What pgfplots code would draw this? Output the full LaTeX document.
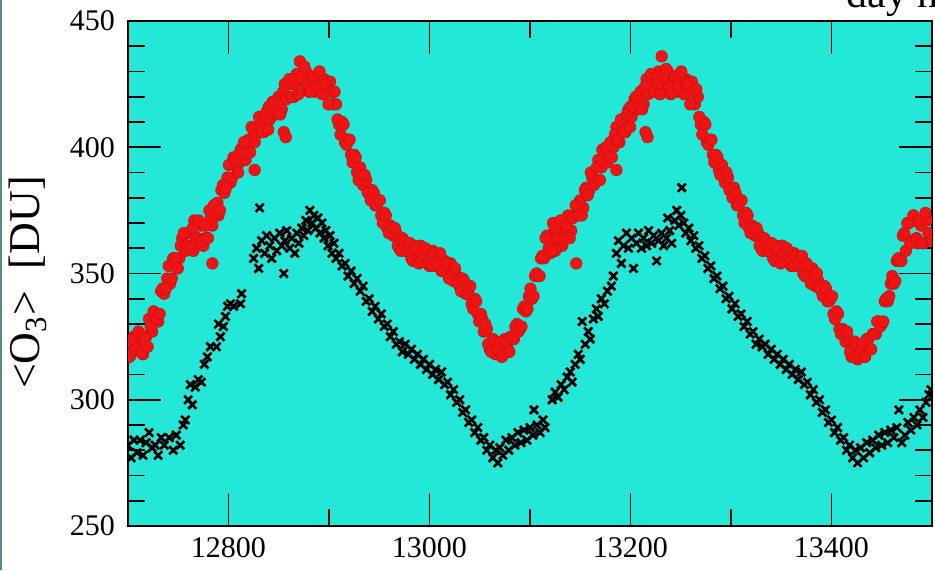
\documentclass[border=0pt]{standalone}
\usepackage{pgfplots}
\pgfplotsset{compat=1.18}
\usepackage{fontspec}
\setmainfont{Liberation Serif}
\definecolor{bgcyan}{RGB}{35,232,215}
\definecolor{ozred}{RGB}{240,20,20}
\definecolor{edgestrip}{RGB}{90,135,150}
\begin{document}
\begin{tikzpicture}
\useasboundingbox (0,0) rectangle (467.5pt,285pt);
\fill[edgestrip] (0,0) rectangle (1pt,285pt);
\node[anchor=base west, font=\fontsize{21}{23}\selectfont, inner sep=0pt] at (423pt,281.5pt) {day number};
\begin{axis}[
  at={(64pt,22pt)}, anchor=south west, scale only axis,
  width=402pt, height=252.5pt,
  xmin=12700, xmax=13500, ymin=250, ymax=450,
  xtick={12800,13000,13200,13400},
  minor xtick={12900,13100,13300},
  ytick={250,300,350,400,450},
  minor y tick num=4,
  tick pos=both, tick align=inside,
  major tick length=16.5pt, minor tick length=8.5pt,
  every tick/.style={black, line width=0.8pt},
  axis line style={line width=1pt},
  axis background/.style={fill=bgcyan},
  scaled x ticks=false,
  /pgf/number format/1000 sep={},
  /pgf/number format/assume math mode=true,
  tick label style={font=\fontsize{15}{17}\selectfont},
  xticklabel style={yshift=-2pt},
  yticklabel style={xshift=-3pt},
  ylabel={<O\textsubscript{3}>\ \ [DU]},
  every axis y label/.style={at={(axis description cs:-0.1244,0.482)}, rotate=90, anchor=center, font=\fontsize{22}{24}\selectfont},
  clip marker paths=true,
  redm/.style={only marks, mark=*, mark size=2.9pt, mark options={fill=ozred, draw=ozred!85!black, line width=0.3pt}},
]
\addplot[redm] coordinates {
(12700,323)(12703,318)(12706,325)(12709,321)(12712,325)(12715,318)(12718,325)(12721,332)(12724,327)(12727,332)
(12730,331)(12733,343)(12736,342)(12739,348)(12742,346)(12745,356)(12748,356)(12751,356)(12754,364)(12757,359)
(12760,366)(12763,361)(12766,371)(12769,364)(12772,369)(12775,361)(12778,369)(12781,375)(12784,369)(12787,374)
(12790,373)(12793,383)(12796,382)(12799,388)(12802,386)(12805,396)(12808,395)(12811,394)(12814,400)(12817,395)
(12820,403)(12823,408)(12826,402)(12829,406)(12832,410)(12835,406)(12838,414)(12841,411)(12844,418)(12847,413)
(12850,420)(12853,415)(12856,425)(12859,420)(12862,425)(12865,420)(12868,429)(12871,434)(12874,426)(12877,430)
(12880,422)(12883,427)(12886,422)(12889,429)(12892,422)(12895,427)(12898,422)(12901,426)(12904,417)(12907,417)
(12910,409)(12913,410)(12916,402)(12919,403)(12922,397)(12925,397)(12928,390)(12931,392)(12934,385)(12937,387)
(12940,382)(12943,383)(12946,377)(12949,379)(12952,373)(12955,374)(12958,368)(12961,369)(12964,365)(12967,366)
(12970,360)(12973,364)(12976,359)(12979,361)(12982,356)(12985,361)(12988,355)(12991,361)(12994,356)(12997,358)
(13000,353)(13003,359)(13006,353)(13009,357)(13012,351)(13015,355)(13018,350)(13021,354)(13024,347)(13027,349)
(13030,345)(13033,348)(13036,342)(13039,344)(13042,338)(13045,340)(13048,334)(13051,334)(13054,327)(13057,328)
(13060,320)(13063,324)(13066,318)(13069,322)(13072,317)(13075,324)(13078,320)(13081,325)(13084,324)(13087,330)
(13090,328)(13093,336)(13096,335)(13099,341)(13102,340)(13105,349)(13108,349)(13111,356)(13114,356)(13117,365)
(13120,358)(13123,370)(13126,363)(13129,368)(13132,361)(13135,368)(13138,373)(13141,367)(13144,373)(13147,373)
(13150,379)(13153,376)(13156,384)(13159,383)(13162,388)(13165,386)(13168,395)(13171,392)(13174,397)(13177,394)
(13180,402)(13183,400)(13186,408)(13189,402)(13192,410)(13195,406)(13198,415)(13201,412)(13204,419)(13207,415)
(13210,422)(13213,417)(13216,427)(13219,422)(13222,427)(13225,422)(13228,430)(13231,436)(13234,425)(13237,430)
(13240,421)(13243,427)(13246,422)(13249,429)(13252,422)(13255,427)(13258,422)(13261,426)(13264,417)(13267,420)
(13270,409)(13273,410)(13276,402)(13279,403)(13282,397)(13285,397)(13288,391)(13291,393)(13294,386)(13297,388)
(13300,383)(13303,384)(13306,377)(13309,379)(13312,373)(13315,374)(13318,368)(13321,369)(13324,365)(13327,366)
(13330,360)(13333,364)(13336,359)(13339,361)(13342,356)(13345,361)(13348,355)(13351,361)(13354,356)(13357,358)
(13360,353)(13363,358)(13366,353)(13369,356)(13372,350)(13375,354)(13378,348)(13381,352)(13384,345)(13387,347)
(13390,343)(13393,345)(13396,339)(13399,340)(13402,334)(13405,335)(13408,328)(13411,328)(13414,323)(13417,324)
(13420,317)(13423,323)(13426,316)(13429,321)(13432,318)(13435,324)(13438,320)(13441,326)(13444,326)(13447,331)
(13450,330)(13453,339)(13456,339)(13459,346)(13462,346)(13465,355)(13468,355)(13471,365)(13474,359)(13477,370)
(13480,363)(13483,371)(13486,362)(13489,369)(13492,362)(13495,371)(13498,365)
(12855,406)(12857,404)(12784,354)(12826,391)(13215,406)(13217,404)(13146,354)(13186,391)
(12765,359)(12777,364)(12789,378)(12812,399)(12840,416)(12866,425)(12878,424)(12893,426)
(13125,359)(13137,364)(13149,378)(13172,399)(13200,416)(13226,425)(13238,424)(13253,426)
};
\addplot[redm] coordinates {
(12701.5,317)(12704.5,324)(12707.5,320)(12710.5,327)(12713.5,319)(12716.5,325)(12719.5,321)(12722.5,329)(12725.5,335)(12728.5,332)
(12731.5,334)(12734.5,344)(12737.5,344)(12740.5,353)(12743.5,348)(12746.5,356)(12749.5,352)(12752.5,361)(12755.5,366)(12758.5,361)
(12761.5,360)(12764.5,368)(12767.5,364)(12770.5,371)(12773.5,363)(12776.5,369)(12779.5,364)(12782.5,372)(12785.5,377)(12788.5,374)
(12791.5,375)(12794.5,385)(12797.5,384)(12800.5,393)(12803.5,388)(12806.5,395)(12809.5,390)(12812.5,398)(12815.5,402)(12818.5,398)
(12821.5,398)(12824.5,407)(12827.5,405)(12830.5,412)(12833.5,406)(12836.5,413)(12839.5,407)(12842.5,414)(12845.5,418)(12848.5,414)
(12851.5,413)(12854.5,422)(12857.5,419)(12860.5,427)(12863.5,420)(12866.5,427)(12869.5,421)(12872.5,428)(12875.5,432)(12878.5,425)
(12881.5,422)(12884.5,428)(12887.5,424)(12890.5,430)(12893.5,421)(12896.5,425)(12899.5,417)(12902.5,422)(12905.5,422)(12908.5,411)
(12911.5,405)(12914.5,409)(12917.5,401)(12920.5,403)(12923.5,394)(12926.5,396)(12929.5,387)(12932.5,389)(12935.5,389)(12938.5,382)
(12941.5,379)(12944.5,382)(12947.5,377)(12950.5,379)(12953.5,370)(12956.5,373)(12959.5,366)(12962.5,368)(12965.5,368)(12968.5,361)
(12971.5,359)(12974.5,363)(12977.5,359)(12980.5,362)(12983.5,355)(12986.5,360)(12989.5,354)(12992.5,358)(12995.5,360)(12998.5,354)
(13001.5,353)(13004.5,358)(13007.5,354)(13010.5,358)(13013.5,351)(13016.5,354)(13019.5,348)(13022.5,351)(13025.5,352)(13028.5,346)
(13031.5,343)(13034.5,347)(13037.5,342)(13040.5,345)(13043.5,336)(13046.5,339)(13049.5,331)(13052.5,332)(13055.5,330)(13058.5,322)
(13061.5,319)(13064.5,323)(13067.5,320)(13070.5,323)(13073.5,318)(13076.5,323)(13079.5,319)(13082.5,325)(13085.5,329)(13088.5,327)
(13091.5,329)(13094.5,337)(13097.5,336)(13100.5,344)(13103.5,341)(13106.5,350)(13109.5,349)(13112.5,357)(13115.5,364)(13118.5,360)
(13121.5,359)(13124.5,368)(13127.5,364)(13130.5,371)(13133.5,363)(13136.5,369)(13139.5,364)(13142.5,372)(13145.5,377)(13148.5,373)
(13151.5,373)(13154.5,383)(13157.5,381)(13160.5,390)(13163.5,385)(13166.5,392)(13169.5,387)(13172.5,395)(13175.5,400)(13178.5,396)
(13181.5,396)(13184.5,405)(13187.5,403)(13190.5,411)(13193.5,406)(13196.5,413)(13199.5,408)(13202.5,416)(13205.5,420)(13208.5,416)
(13211.5,415)(13214.5,424)(13217.5,421)(13220.5,429)(13223.5,422)(13226.5,428)(13229.5,421)(13232.5,428)(13235.5,431)(13238.5,424)
(13241.5,422)(13244.5,428)(13247.5,424)(13250.5,430)(13253.5,421)(13256.5,425)(13259.5,417)(13262.5,422)(13265.5,423)(13268.5,412)
(13271.5,405)(13274.5,409)(13277.5,401)(13280.5,403)(13283.5,394)(13286.5,396)(13289.5,389)(13292.5,390)(13295.5,390)(13298.5,383)
(13301.5,380)(13304.5,382)(13307.5,377)(13310.5,379)(13313.5,370)(13316.5,373)(13319.5,366)(13322.5,368)(13325.5,368)(13328.5,361)
(13331.5,359)(13334.5,363)(13337.5,359)(13340.5,362)(13343.5,355)(13346.5,360)(13349.5,354)(13352.5,358)(13355.5,360)(13358.5,354)
(13361.5,353)(13364.5,357)(13367.5,354)(13370.5,357)(13373.5,349)(13376.5,353)(13379.5,346)(13382.5,349)(13385.5,350)(13388.5,344)
(13391.5,341)(13394.5,344)(13397.5,339)(13400.5,341)(13403.5,332)(13406.5,334)(13409.5,326)(13412.5,327)(13415.5,327)(13418.5,319)
(13421.5,317)(13424.5,322)(13427.5,318)(13430.5,322)(13433.5,317)(13436.5,324)(13439.5,320)(13442.5,326)(13445.5,331)(13448.5,329)
(13451.5,331)(13454.5,340)(13457.5,341)(13460.5,349)(13463.5,347)(13466.5,356)(13469.5,355)(13472.5,366)(13475.5,370)(13478.5,362)
(13481.5,373)(13484.5,364)(13487.5,371)(13490.5,362)(13493.5,374)(13496.5,366)(13499.5,363)
};
\addplot[only marks, mark=x, mark size=2.9pt, mark options={draw=black, line width=1.35pt}] coordinates {
(12700,282)(12703,277)(12706,284)(12709,279)(12712,284)(12715,278)(12718,283)(12721,287)(12724,281)(12727,282)
(12730,278)(12733,285)(12736,282)(12741,285)(12745,280)(12748,286)(12752,282)(12755,290)(12757,292)(12760,300)
(12762,306)(12764,298)(12767,305)(12770,308)(12773,307)(12776,314)(12779,317)(12782,321)(12788,321)(12790,330)
(12792,325)(12795,329)(12797,333)(12799,337)(12802,338)(12805,337)(12812,338)(12813,342)
(12825,356)(12828,360)(12830,352)(12831,376)(12833,363)(12836,358)(12838,365)(12841,361)(12843,356)(12846,364)
(12848,359)(12851,366)(12853,361)(12855,350)(12856,363)(12858,367)(12861,360)(12863,364)(12866,358)(12868,366)
(12870,362)(12873,368)(12875,365)(12877,371)(12879,367)(12881,375)(12883,370)(12885,373)(12887,368)(12889,372)
(12891,366)(12893,370)(12895,364)(12897,367)(12899,361)(12901,365)(12903,358)(12905,362)(12907,356)(12910,358)
(12913,353)(12916,354)(12919,349)(12922,351)(12925,346)(12928,348)(12931,343)(12934,345)(12937,339)(12940,340)
(12943,335)(12946,337)(12949,332)(12952,334)(12955,329)(12958,330)(12961,325)(12964,327)(12967,322)(12970,323)
(12973,319)(12976,322)(12979,318)(12982,320)(12985,316)(12988,318)(12991,314)(12994,316)(12997,312)(13000,314)
(13003,310)(13006,312)(13009,308)(13012,311)(13015,306)(13018,307)(13021,302)(13024,304)(13027,299)(13030,300)
(13033,295)(13036,296)(13039,291)(13042,292)(13045,287)(13048,289)(13051,284)(13054,285)(13057,280)(13060,282)
(13063,277)(13066,280)(13068,275)(13070,281)(13073,278)(13076,284)(13079,280)(13082,285)(13085,282)(13088,287)
(13091,283)(13094,288)(13097,284)(13100,289)(13103,286)(13104,296)(13107,290)(13110,287)(13113,292)(13115,289)
(13122,300)(13125,303)(13128,301)(13131,306)(13134,304)(13137,309)(13140,311)(13142,307)(13145,314)(13148,318)
(13150,316)(13152,331)(13155,322)(13158,327)(13160,324)(13163,332)(13166,336)(13168,333)(13171,340)(13174,338)
(13177,343)(13181,345)(13183,349)
(13186,358)(13188,363)(13191,354)(13193,361)(13196,366)(13198,360)(13201,364)(13203,352)(13206,362)(13208,366)
(13211,360)(13213,364)(13216,361)(13218,367)(13221,362)(13223,365)(13226,355)(13228,363)(13231,366)(13233,361)
(13236,364)(13237,372)(13239,367)(13241,362)(13244,371)(13246,375)(13248,369)(13250,373)(13251,384)(13253,370)
(13255,366)(13258,368)(13260,363)(13263,365)(13265,360)(13268,361)(13271,356)(13274,357)(13277,352)(13280,353)
(13283,348)(13286,349)(13289,344)(13292,345)(13295,340)(13298,341)(13301,336)(13304,338)(13307,333)(13310,334)
(13313,329)(13316,331)(13319,326)(13322,327)(13325,322)(13328,324)
(13331,321)(13334,322)(13337,318)(13340,320)(13343,316)(13346,318)(13349,314)(13352,316)(13355,312)(13358,314)
(13361,310)(13364,312)(13367,308)(13370,311)(13373,306)(13376,307)(13379,302)(13382,304)(13385,299)(13388,300)
(13391,295)(13394,296)(13397,291)(13400,292)(13403,287)(13406,289)(13409,284)(13412,285)(13415,280)(13418,282)
(13421,277)(13424,280)(13426,275)(13429,281)(13432,277)(13435,283)(13438,279)(13441,284)(13444,281)(13447,286)
(13450,282)(13453,287)(13456,283)(13459,288)(13462,285)(13465,289)(13467,296)(13470,283)(13473,286)(13476,291)
(13479,288)(13482,293)(13485,290)(13488,296)(13491,293)(13494,299)(13497,302)(13499,304)
};
\end{axis}
\end{tikzpicture}
\end{document}
